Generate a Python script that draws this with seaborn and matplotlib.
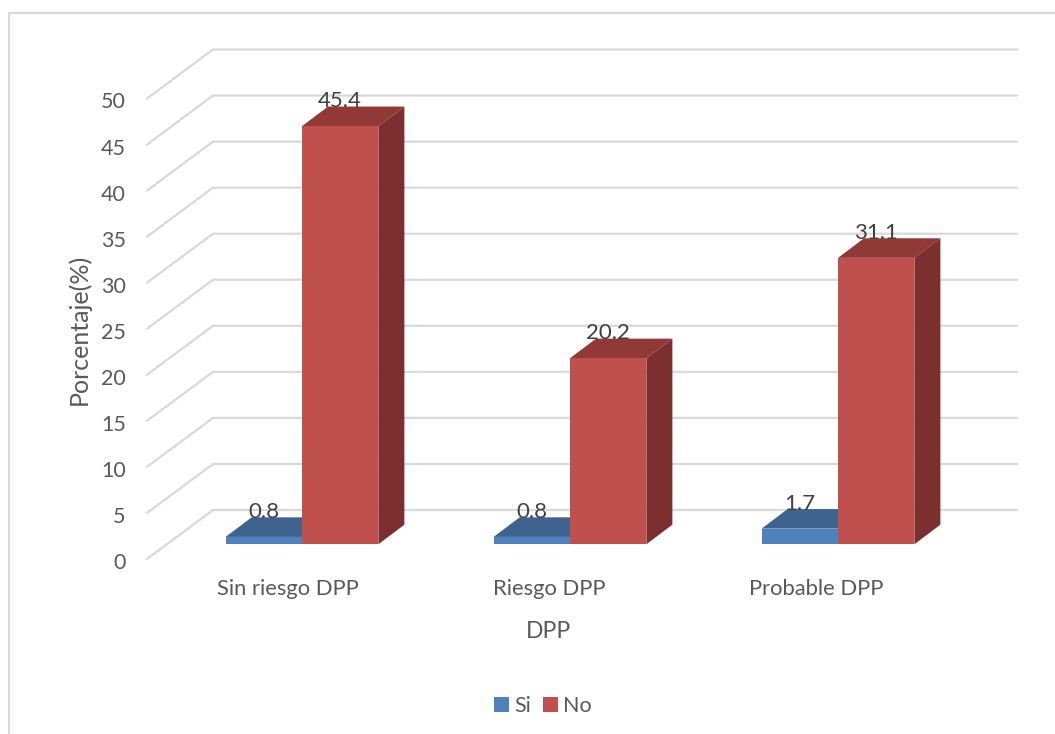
# Grouped bar chart drawn with a fake 3D look, like the spreadsheet original.

import pandas as pd
import matplotlib
matplotlib.use('Agg')
import matplotlib.pyplot as plt
import seaborn as sns
from matplotlib.lines import Line2D
from matplotlib.patches import Polygon

categories = ['Sin riesgo DPP', 'Riesgo DPP', 'Probable DPP']
si_values = [0.8, 0.8, 1.7]
no_values = [45.4, 20.2, 31.1]
y_ticks = [0, 5, 10, 15, 20, 25, 30, 35, 40, 45, 50]

FIG_W, FIG_H = 1055, 734
PX_PER_CAT = 268      # pixels between two groups
PX_PER_UNIT = 9.21    # pixels per percent
X0_PX, Y0_PX = 302, 544.3   # pixel where x=0, y=0 of the bars sit


def px_x(px):
    return (px - X0_PX) / PX_PER_CAT


def px_y(px):
    return (Y0_PX - px) / PX_PER_UNIT


sns.set_style('white')
plt.rcParams['font.family'] = ['Lato', 'DejaVu Sans']

df = pd.DataFrame({
    'categoria': categories * 2,
    'serie': ['Si'] * 3 + ['No'] * 3,
    'valor': si_values + no_values,
})

fig = plt.figure(figsize=(FIG_W / 100, FIG_H / 100), dpi=100)
ax = fig.add_axes([0, 0, 1, 1])
ax.patch.set_alpha(0)

sns.barplot(data=df, x='categoria', y='valor', hue='serie', order=categories,
            hue_order=['Si', 'No'], palette=['#4f81bd', '#c0504d'], saturation=1,
            width=0.57, gap=0, legend=False, ax=ax)

ax.set_xlim(px_x(0), px_x(FIG_W))
ax.set_ylim(px_y(FIG_H), px_y(0))
sns.despine(ax=ax, left=True, bottom=True)

# Back wall and the diagonals running to the front axis
front_off = px_y(559)
back_off = px_y(510)
for v in y_ticks:
    ax.plot([px_x(147), px_x(213), px_x(1017)],
            [v + front_off, v + back_off, v + back_off],
            color='#d9d9d9', lw=1.6, zorder=0, solid_joinstyle='miter')

# Top and side faces of the bars
depth_x = 26 / PX_PER_CAT
depth_y = 19.6 / PX_PER_UNIT
face_colors = [('#3e638f', '#2f4d70'), ('#903937', '#7c2f2e')]
for level, (container, (top_c, side_c)) in enumerate(zip(ax.containers, face_colors)):
    z = 2 + level
    for bar in container:
        x, w, h = bar.get_x(), bar.get_width(), bar.get_height()
        ax.add_patch(Polygon([(x, h), (x + w, h), (x + w + depth_x, h + depth_y), (x + depth_x, h + depth_y)],
                             facecolor=top_c, edgecolor='none', zorder=z))
        ax.add_patch(Polygon([(x + w, 0), (x + w + depth_x, depth_y), (x + w + depth_x, h + depth_y), (x + w, h)],
                             facecolor=side_c, edgecolor='none', zorder=z))
        bar.set_zorder(z + 0.5)
        bar.set_linewidth(0)
        ax.text(x + w / 2, h + 25 / PX_PER_UNIT, f'{h:.1f}', ha='center', va='center',
                fontsize=16, color='#404040', zorder=6)

# Axis text
label_off = px_y(561)
ax.set_yticks([v + label_off for v in y_ticks], [str(v) for v in y_ticks])
ax.tick_params(axis='y', length=0, pad=-90.5, labelsize=15.5, labelcolor='#595959')
ax.set_xticks([px_x(288), px_x(549.5), px_x(816.5)], categories)
ax.tick_params(axis='x', length=0, pad=-111.5, labelsize=15.8, labelcolor='#595959')

ax.set_ylabel('Porcentaje(%)', fontsize=18, color='#595959', va='center', ha='center')
ax.yaxis.set_label_coords(78.5 / FIG_W, 1 - 329 / FIG_H)
ax.set_xlabel('DPP', fontsize=16.5, color='#595959', va='center', ha='center')
ax.xaxis.set_label_coords(549 / FIG_W, 1 - 631 / FIG_H)

ax.legend([c[0] for c in ax.containers], ['Si', 'No'], ncol=2, frameon=False, fontsize=15.5,
          labelcolor='#595959', loc='center', bbox_to_anchor=(543 / FIG_W, 1 - 706 / FIG_H),
          handlelength=0.7, handleheight=0.7, handletextpad=0.25, columnspacing=0.55)

# Outer frame: only the top and left edges show in the crop
frame_y = 1 - 13 / FIG_H
frame_x = 8.5 / FIG_W
fig.add_artist(Line2D([frame_x, frame_x, 1], [0, frame_y, frame_y], color='#d9d9d9', lw=1.5))

fig.savefig('out.png', dpi=100)
